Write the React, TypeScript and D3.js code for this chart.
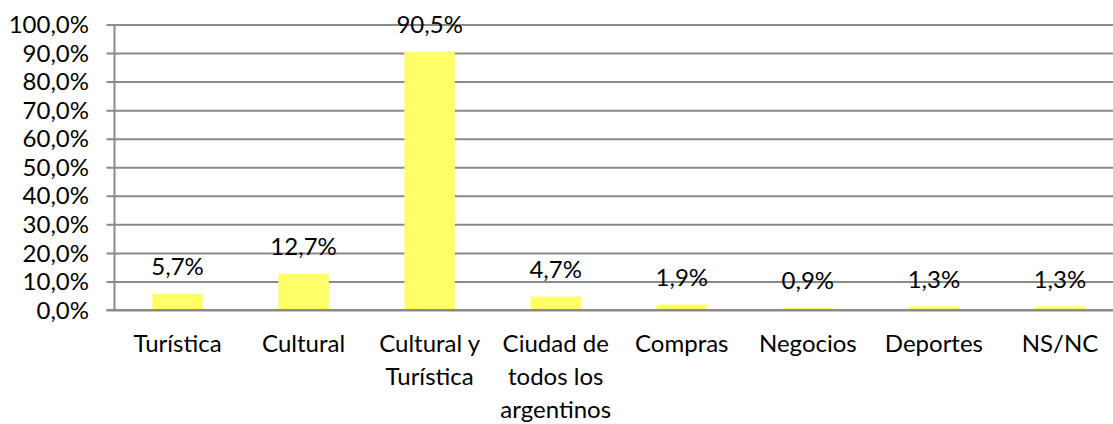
import React, { useEffect, useRef } from 'react';
import * as d3 from 'd3';

// categories (line breaks as in the original chart)
const categories = [
  'Turística',
  'Cultural',
  'Cultural y\nTurística',
  'Ciudad de\ntodos los\nargentinos',
  'Compras',
  'Negocios',
  'Deportes',
  'NS/NC',
];
const values = [5.7, 12.7, 90.5, 4.7, 1.9, 0.9, 1.3, 1.3];
const yTicks = [0, 10, 20, 30, 40, 50, 60, 70, 80, 90, 100];

const fmt = (v: number, digits: number) => v.toFixed(digits).replace('.', ',') + '%';

function App() {
  const ref = useRef<SVGSVGElement>(null);

  useEffect(() => {
    const W = 1113, H = 424;
    const left = 114.5, right = 1123, top = 24.5, bottom = 310;
    const font = 'Lato, "Open Sans", sans-serif';
    const fontSize = 24;
    const grid = '#8a8a8a';

    const svg = d3.select(ref.current);
    svg.selectAll('*').remove();
    svg.attr('width', W).attr('height', H);

    const x = d3.scaleBand().domain(categories).range([left, right]).padding(0);
    const y = d3.scaleLinear().domain([0, 100]).range([bottom, top]);

    // y axis with gridlines
    const yAxis = d3.axisLeft(y)
      .tickValues(yTicks)
      .tickSizeOuter(0)
      .tickFormat((d) => fmt(+d, 1));

    const ga = svg.append('g')
      .attr('transform', 'translate(' + left + ',0)')
      .call(yAxis);
    ga.select('.domain').remove();
    ga.selectAll('.tick line')
      .attr('x1', -8)
      .attr('x2', W - left)
      .attr('stroke', grid)
      .attr('stroke-width', 2);
    ga.selectAll('.tick text')
      .attr('x', -25.5)
      .attr('dy', '0.34em')
      .attr('fill', '#000')
      .style('font-family', font)
      .style('font-size', fontSize + 'px');

    // vertical axis line
    svg.append('line')
      .attr('x1', left).attr('x2', left)
      .attr('y1', top).attr('y2', bottom)
      .attr('stroke', grid)
      .attr('stroke-width', 2);

    const barW = x.bandwidth() * 0.4;

    // bars
    svg.selectAll('.bar')
      .data(values)
      .enter().append('rect')
      .attr('class', 'bar')
      .attr('x', (d, i) => x(categories[i])! + (x.bandwidth() - barW) / 2)
      .attr('y', (d) => y(d))
      .attr('width', barW)
      .attr('height', (d) => bottom - y(d))
      .attr('fill', '#ffff66');

    // redraw baseline over the bars
    svg.append('line')
      .attr('x1', left - 8).attr('x2', W)
      .attr('y1', bottom).attr('y2', bottom)
      .attr('stroke', grid)
      .attr('stroke-width', 2);

    // value labels
    svg.selectAll('.val')
      .data(values)
      .enter().append('text')
      .attr('class', 'val')
      .attr('x', (d, i) => x(categories[i])! + x.bandwidth() / 2)
      .attr('y', (d) => y(d) - 18.5)
      .attr('text-anchor', 'middle')
      .style('font-family', font)
      .style('font-size', fontSize + 'px')
      .text((d) => fmt(d, 1));

    // category labels
    const cat = svg.selectAll('.cat')
      .data(categories)
      .enter().append('text')
      .attr('class', 'cat')
      .attr('x', (d) => x(d)! + x.bandwidth() / 2)
      .attr('y', 352)
      .attr('text-anchor', 'middle')
      .style('font-family', font)
      .style('font-size', fontSize + 'px');
    cat.each(function (d) {
      const t = d3.select(this);
      const cx = x(d)! + x.bandwidth() / 2;
      d.split('\n').forEach((line, k) => {
        t.append('tspan')
          .attr('x', cx)
          .attr('y', 352 + k * 32.8)
          .text(line);
      });
    });
  }, []);

  return (
    <div style={{ position: 'absolute', left: 0, top: 0, background: '#fff' }}>
      <svg ref={ref} style={{ display: 'block' }}></svg>
    </div>
  );
}

export default App;
